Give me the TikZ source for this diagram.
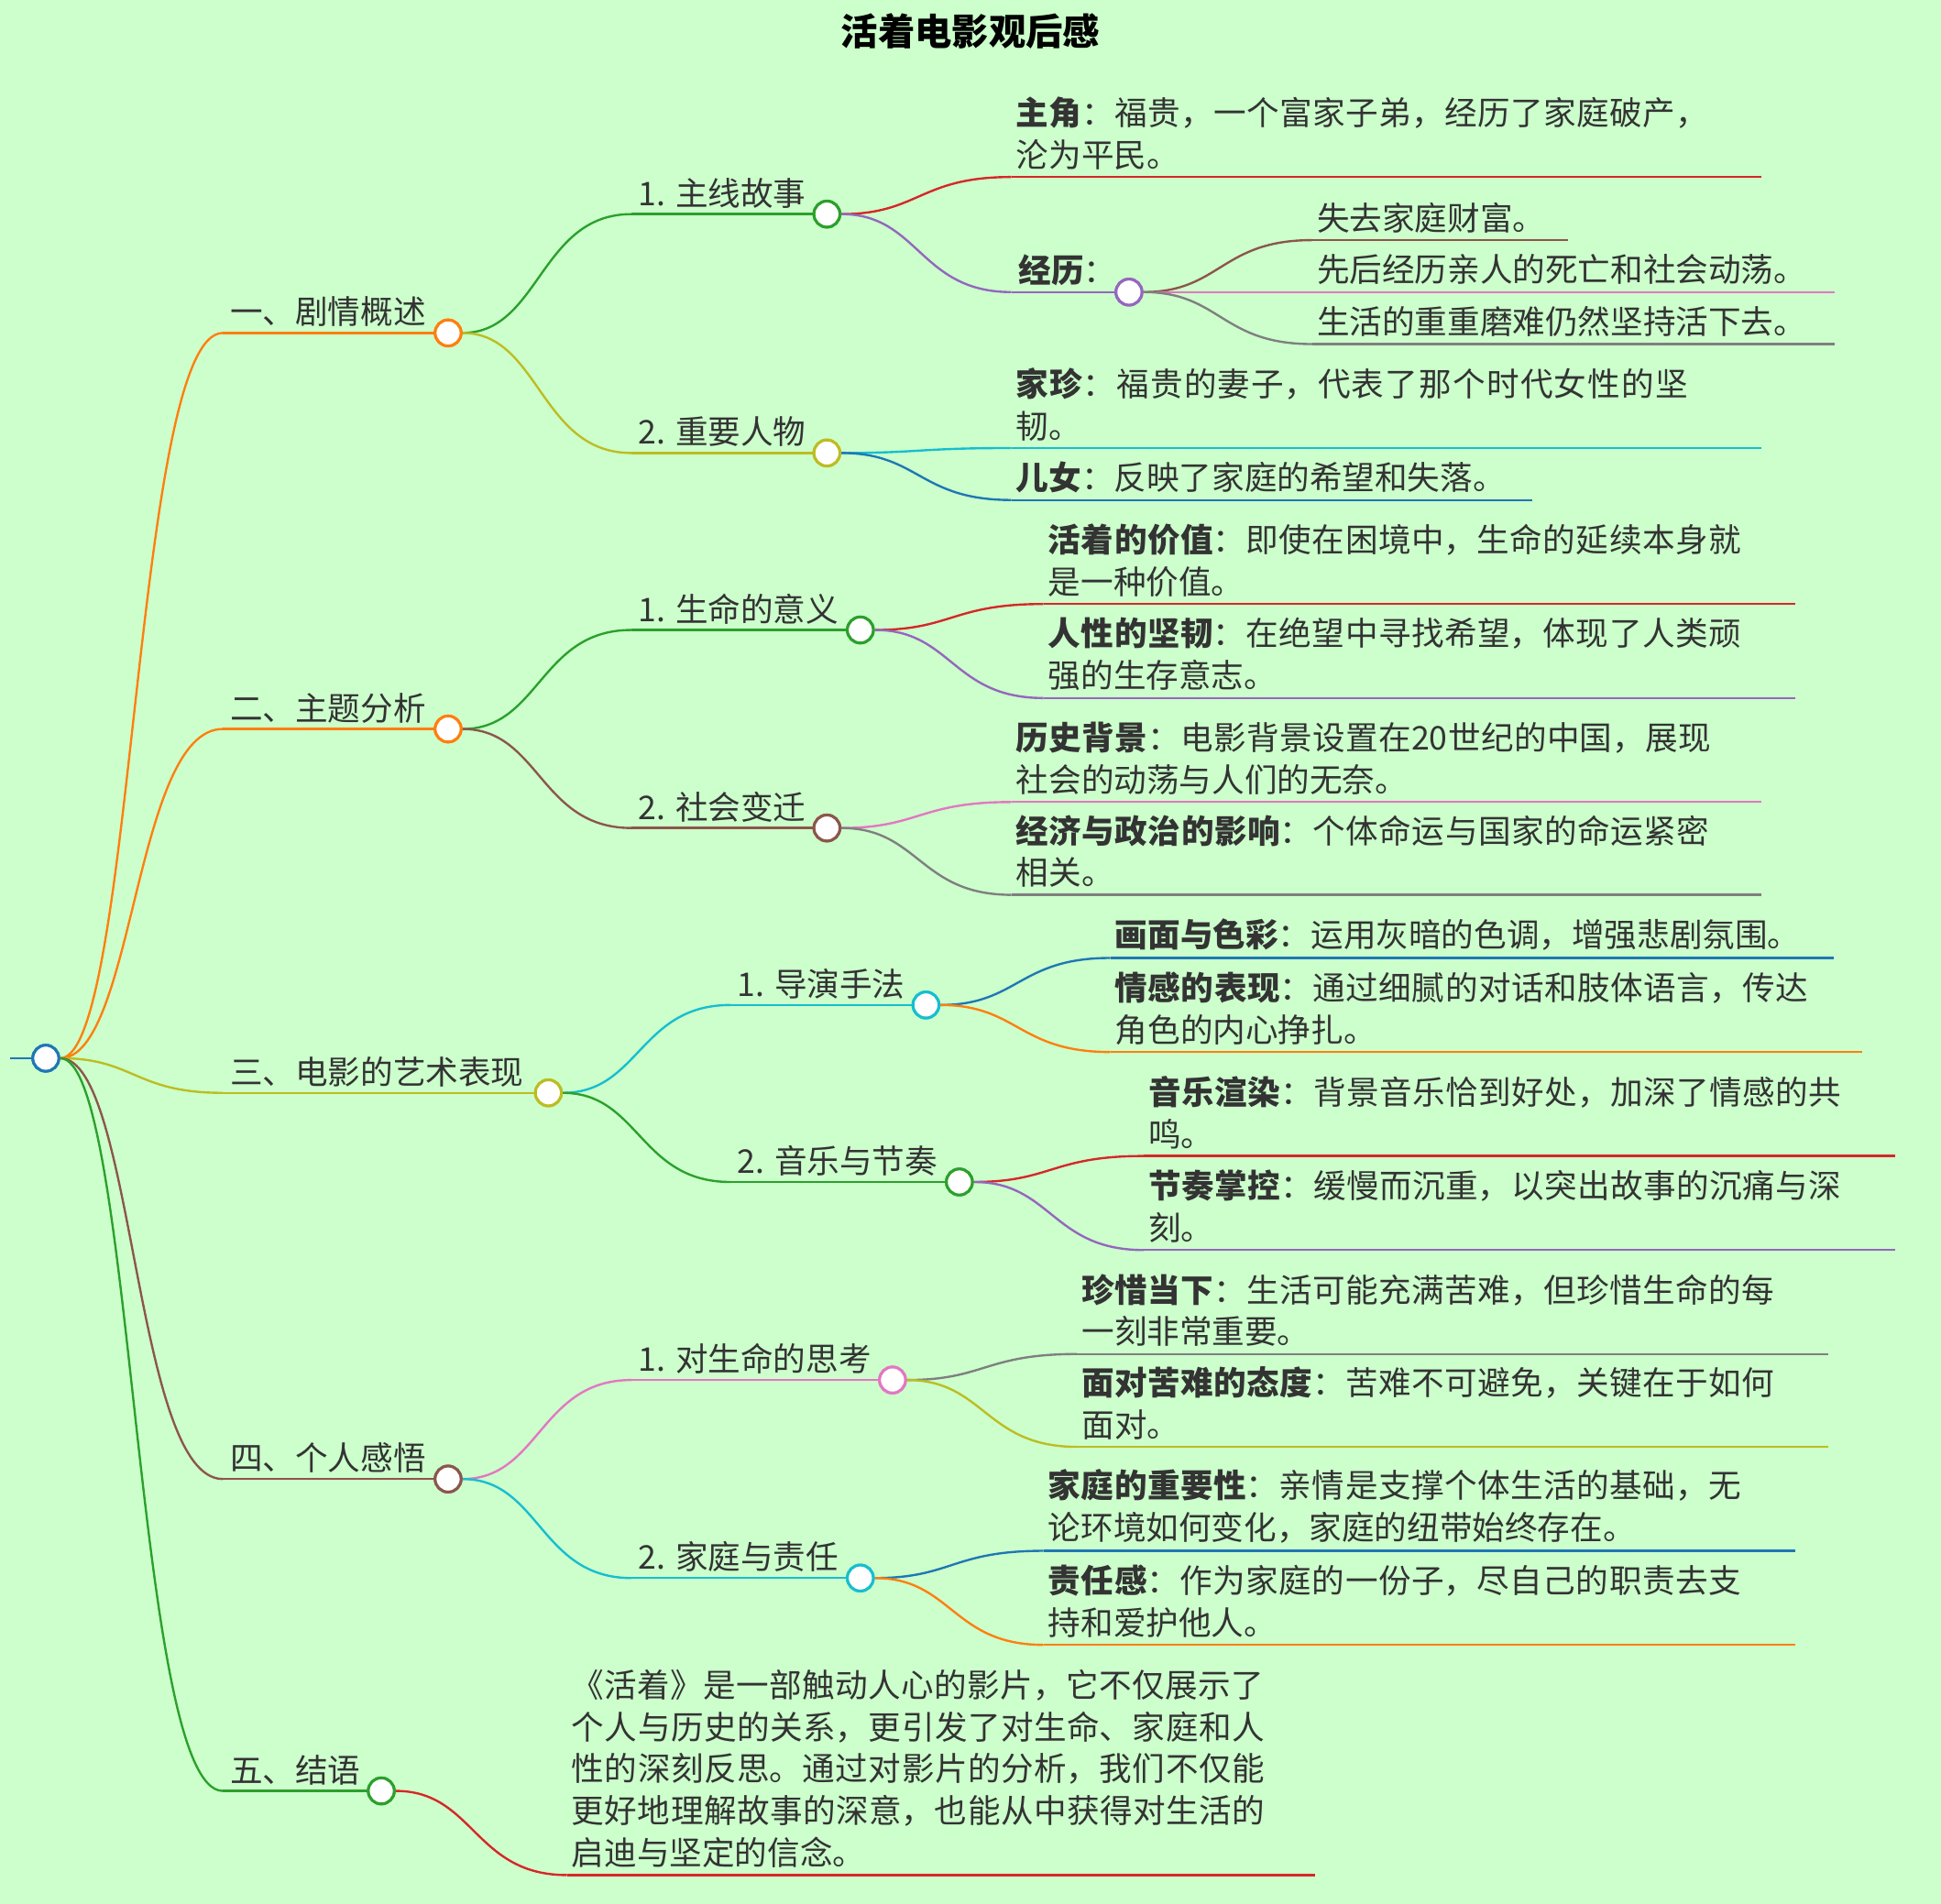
\documentclass[tikz,border=0pt]{standalone}
\usepackage{fontspec}
\setmainfont{Noto Sans CJK SC}
\XeTeXlinebreaklocale "zh"
\XeTeXlinebreakskip=0pt plus 1pt
\usetikzlibrary{calc}
\definecolor{bgmint}{RGB}{204,255,204}
\definecolor{tabblue}{HTML}{1F77B4}
\definecolor{taborange}{HTML}{FF7F0E}
\definecolor{tabgreen}{HTML}{2CA02C}
\definecolor{tabred}{HTML}{D62728}
\definecolor{tabpurple}{HTML}{9467BD}
\definecolor{tabbrown}{HTML}{8C564B}
\definecolor{tabpink}{HTML}{E377C2}
\definecolor{tabgray}{HTML}{7F7F7F}
\definecolor{tabolive}{HTML}{BCBD22}
\definecolor{tabcyan}{HTML}{17BECF}
\tikzset{
  hub/.style={circle, draw=#1, fill=white, line width=1.3pt, minimum size=0.42cm, inner sep=0pt},
  lbl/.style={anchor=south west, inner sep=2pt, font=\fontsize{15}{19.3}\selectfont, text=black!80},
  leaftext/.style={lbl, text width=11.4cm, align=left},
  bar/.style={line width=1pt, #1},
}
% curve from a hub to the start of a child bar
\newcommand\link[3]{\draw[bar=#3] let \p1=(#1), \p2=(#2) in
  (#1) .. controls ({(\x1+\x2)/2},\y1) and ({(\x1+\x2)/2},\y2) .. (#2);}
% leaf: name, x1, x2, y, colour, text
\newcommand\leaf[6]{
  \coordinate (#1s) at (#2,#4);
  \coordinate (#1e) at (#3,#4);
  \draw[bar=#5] (#1s) -- (#1e);
  \node[leaftext] (#1) at ($(#1s)+(0,-2)$) {#6};}
% hub: name, x1, x2, y, colour, text
\newcommand\hubline[6]{
  \coordinate (#1s) at (#2,#4);
  \draw[bar=#5] (#1s) -- (#3,#4);
  \node[lbl] (#1t) at ($(#1s)+(2,-1)$) {#6};
  \node[hub=#5] (#1) at (#3,#4) {};}

\begin{document}
\begin{tikzpicture}[x=0.02cm, y=-0.02cm]
  \fill[bgmint] (0,0) rectangle (1568,1538);
  \useasboundingbox (0,0) rectangle (1568,1538);

  \node[font=\fontsize{17}{20}\selectfont\bfseries] (title) at (784,25) {活着电影观后感};

  % root
  \coordinate (rootin) at (8,855);
  \draw[bar=tabblue] (rootin) -- (37,855);
  % level 1
  \hubline{pa}{180}{362}{269}{taborange}{一、剧情概述}
  \hubline{pb}{180}{362}{589}{taborange}{二、主题分析}
  \hubline{pc}{180}{443}{883}{tabolive}{三、电影的艺术表现}
  \hubline{pd}{180}{362}{1195}{tabbrown}{四、个人感悟}
  \hubline{pe}{180}{308}{1447}{tabgreen}{五、结语}
  \node[hub=tabblue] (root) at (37,855) {};
  \link{root}{pas}{taborange}
  \link{root}{pbs}{taborange}
  \link{root}{pcs}{tabolive}
  \link{root}{pds}{tabbrown}
  \link{root}{pes}{tabgreen}
  \node[hub=tabblue] at (root) {};

  % level 2
  \hubline{qa}{510}{668}{173}{tabgreen}{1. 主线故事}
  \hubline{qb}{510}{668}{366}{tabolive}{2. 重要人物}
  \hubline{qc}{510}{695}{509}{tabgreen}{1. 生命的意义}
  \hubline{qd}{510}{668}{669}{tabbrown}{2. 社会变迁}
  \hubline{qe}{590}{748}{812}{tabcyan}{1. 导演手法}
  \hubline{qf}{590}{775}{955}{tabgreen}{2. 音乐与节奏}
  \hubline{qg}{510}{721}{1115}{tabpink}{1. 对生命的思考}
  \hubline{qh}{510}{695}{1275}{tabcyan}{2. 家庭与责任}
  \link{pa}{qas}{tabgreen}
  \link{pa}{qbs}{tabolive}
  \link{pb}{qcs}{tabgreen}
  \link{pb}{qds}{tabbrown}
  \link{pc}{qes}{tabcyan}
  \link{pc}{qfs}{tabgreen}
  \link{pd}{qgs}{tabpink}
  \link{pd}{qhs}{tabcyan}

  % story
  \leaf{ra}{817}{1423}{143}{tabred}{\textbf{主角}：福贵，一个富家子弟，经历了家庭破产，沦为平民。}
  \hubline{rb}{817}{912}{236}{tabpurple}{\textbf{经历}：}
  \link{qa}{ras}{tabred}
  \link{qa}{rbs}{tabpurple}
  \leaf{sa}{1060}{1267}{194}{tabbrown}{失去家庭财富。}
  \leaf{sb}{1060}{1482}{236}{tabpink}{先后经历亲人的死亡和社会动荡。}
  \leaf{sc}{1060}{1482}{278}{tabgray}{生活的重重磨难仍然坚持活下去。}
  \link{rb}{sas}{tabbrown}
  \link{rb}{sbs}{tabpink}
  \link{rb}{scs}{tabgray}
  \leaf{rc}{817}{1423}{362}{tabcyan}{\textbf{家珍}：福贵的妻子，代表了那个时代女性的坚韧。}
  \leaf{rd}{817}{1238}{404}{tabblue}{\textbf{儿女}：反映了家庭的希望和失落。}
  \link{qb}{rcs}{tabcyan}
  \link{qb}{rds}{tabblue}
  \node[hub=tabpurple] at (rb) {};

  % themes
  \leaf{re}{843}{1450}{488}{tabred}{\textbf{活着的价值}：即使在困境中，生命的延续本身就是一种价值。}
  \leaf{rf}{843}{1450}{564}{tabpurple}{\textbf{人性的坚韧}：在绝望中寻找希望，体现了人类顽强的生存意志。}
  \link{qc}{res}{tabred}
  \link{qc}{rfs}{tabpurple}
  \leaf{rg}{817}{1423}{648}{tabpink}{\textbf{历史背景}：电影背景设置在20世纪的中国，展现社会的动荡与人们的无奈。}
  \leaf{rh}{817}{1423}{723}{tabgray}{\textbf{经济与政治的影响}：个体命运与国家的命运紧密相关。}
  \link{qd}{rgs}{tabpink}
  \link{qd}{rhs}{tabgray}

  % art
  \leaf{ri}{897}{1481}{774}{tabblue}{\textbf{画面与色彩}：运用灰暗的色调，增强悲剧氛围。}
  \leaf{rj}{897}{1504}{850}{taborange}{\textbf{情感的表现}：通过细腻的对话和肢体语言，传达角色的内心挣扎。}
  \link{qe}{ris}{tabblue}
  \link{qe}{rjs}{taborange}
  \leaf{rk}{924}{1531}{934}{tabred}{\textbf{音乐渲染}：背景音乐恰到好处，加深了情感的共鸣。}
  \leaf{rl}{924}{1531}{1010}{tabpurple}{\textbf{节奏掌控}：缓慢而沉重，以突出故事的沉痛与深刻。}
  \link{qf}{rks}{tabred}
  \link{qf}{rls}{tabpurple}

  % thoughts
  \leaf{rm}{870}{1477}{1094}{tabgray}{\textbf{珍惜当下}：生活可能充满苦难，但珍惜生命的每一刻非常重要。}
  \leaf{rn}{870}{1477}{1169}{tabolive}{\textbf{面对苦难的态度}：苦难不可避免，关键在于如何面对。}
  \link{qg}{rms}{tabgray}
  \link{qg}{rns}{tabolive}
  \leaf{ro}{843}{1450}{1253}{tabblue}{\textbf{家庭的重要性}：亲情是支撑个体生活的基础，无论环境如何变化，家庭的纽带始终存在。}
  \leaf{rp}{843}{1450}{1329}{taborange}{\textbf{责任感}：作为家庭的一份子，尽自己的职责去支持和爱护他人。}
  \link{qh}{ros}{tabblue}
  \link{qh}{rps}{taborange}

  % conclusion
  \leaf{rq}{458}{1062}{1515}{tabred}{《活着》是一部触动人心的影片，它不仅展示了个人与历史的关系，更引发了对生命、家庭和人性的深刻反思。通过对影片的分析，我们不仅能更好地理解故事的深意，也能从中获得对生活的启迪与坚定的信念。}
  \link{pe}{rqs}{tabred}

  % hubs on top of curves
  \foreach \h/\c in {pa/taborange, pb/taborange, pc/tabolive, pd/tabbrown, pe/tabgreen,
    qa/tabgreen, qb/tabolive, qc/tabgreen, qd/tabbrown, qe/tabcyan, qf/tabgreen, qg/tabpink, qh/tabcyan}
    \node[hub=\c] at (\h) {};
\end{tikzpicture}
\end{document}
